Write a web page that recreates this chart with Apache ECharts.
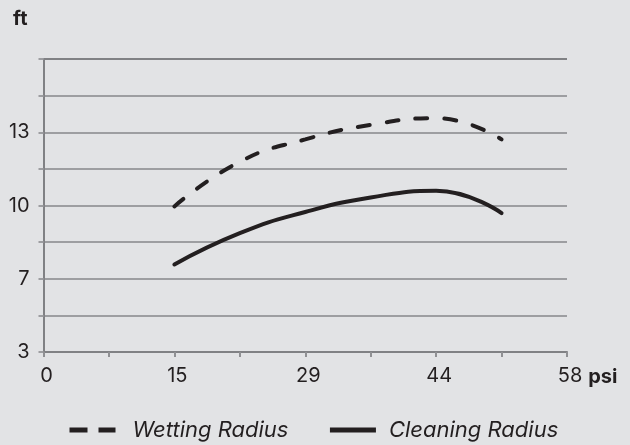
<!DOCTYPE html>
<html>
<head>
<meta charset="utf-8">
<script src="https://cdn.jsdelivr.net/npm/echarts@6/dist/echarts.min.js"></script>
<style>
html,body{margin:0;padding:0;background:#e2e3e5;}
#chart{width:630px;height:445px;}
</style>
</head>
<body>
<div id="chart"></div>
<script>
// Data (x in psi, y in ft)
var pressurePsi = [14.5, 21.75, 29, 36.25, 43.5, 50.75];
var wettingRadius = [9.8, 11.8, 12.8, 13.45, 13.75, 12.8];
var cleaningRadius = [7.2, 8.6, 9.55, 10.2, 10.5, 9.5];
var seriesNames = ['Wetting Radius', 'Cleaning Radius'];
var xAxisName = 'psi';
var yAxisName = 'ft';

var FONT = 'Inter';
var INK = '#231f20';

function pairs(xs, ys) {
  return xs.map(function (x, i) { return [x, ys[i]]; });
}

var chart = echarts.init(document.getElementById('chart'), null, {renderer: 'canvas'});
chart.setOption({
  backgroundColor: '#e2e3e5',
  animation: false,
  textStyle: {fontFamily: FONT},
  grid: {left: 43.5, right: 63, top: 59, bottom: 93, containLabel: false},
  legend: {
    left: 67, top: 419, orient: 'horizontal', padding: 0,
    itemWidth: 46, itemHeight: 20, itemGap: 39,
    selectedMode: false,
    itemStyle: {color: 'transparent', borderWidth: 0, opacity: 0},
    textStyle: {fontFamily: FONT, fontSize: 22, fontStyle: 'italic', color: INK},
    data: [
      {name: seriesNames[0], lineStyle: {type: [18, 11], width: 5, cap: 'butt', color: INK},
        textStyle: {padding: [0, 0, 0, 12]}},
      {name: seriesNames[1], lineStyle: {type: 'solid', width: 5, cap: 'butt', color: INK},
        textStyle: {padding: [0, 0, 0, 8]}}
    ]
  },
  xAxis: {
    type: 'value', min: 0, max: 58, interval: 7.25,
    name: xAxisName, nameLocation: 'end', nameGap: 18,
    nameTextStyle: {fontFamily: FONT, fontSize: 20, fontWeight: 'bold', color: INK, verticalAlign: 'top', padding: [15, 0, 0, 0]},
    axisLine: {show: true, onZero: false, lineStyle: {color: '#808184', width: 2}},
    axisTick: {show: true, length: 5, lineStyle: {color: '#8f9093', width: 2}},
    axisLabel: {
      margin: 14, fontFamily: FONT, fontSize: 20, color: INK, padding: [0, 0, 0, 6],
      formatter: function (v) {
        var k = Math.round(v / 7.25);
        return k % 2 === 0 ? String(Math.round(v)) : '';
      }
    },
    splitLine: {show: false}
  },
  yAxis: {
    type: 'value', min: 3.28, max: 16.4, interval: 1.64,
    name: yAxisName, nameLocation: 'end', nameGap: 30,
    nameTextStyle: {fontFamily: FONT, fontSize: 20, fontWeight: 'bold', color: INK, align: 'right', padding: [0, 16, 0, 0]},
    axisLine: {show: true, onZero: false, lineStyle: {color: '#808184', width: 2}},
    axisTick: {show: true, length: 5, lineStyle: {color: '#9d9ea1', width: 2}},
    axisLabel: {
      margin: 14, fontFamily: FONT, fontSize: 20, color: INK,
      formatter: function (v) {
        var k = Math.round(v / 1.64);
        return (k % 2 === 0 && k <= 8) ? String(Math.round(v)) : '';
      }
    },
    splitLine: {show: true, lineStyle: {color: ['#9d9ea1','#9d9ea1','#9d9ea1','#9d9ea1','#9d9ea1','#9d9ea1','#9d9ea1','#9d9ea1','#808184'], width: 2}}
  },
  series: [
    {
      name: seriesNames[0], type: 'line', data: pairs(pressurePsi, wettingRadius),
      smooth: true, symbol: 'none',
      lineStyle: {color: INK, width: 4, type: [12, 17], cap: 'round'},
      itemStyle: {color: INK}
    },
    {
      name: seriesNames[1], type: 'line', data: pairs(pressurePsi, cleaningRadius),
      smooth: true, symbol: 'none',
      lineStyle: {color: INK, width: 4, type: 'solid', cap: 'round'},
      itemStyle: {color: INK}
    }
  ]
});
</script>
</body>
</html>
